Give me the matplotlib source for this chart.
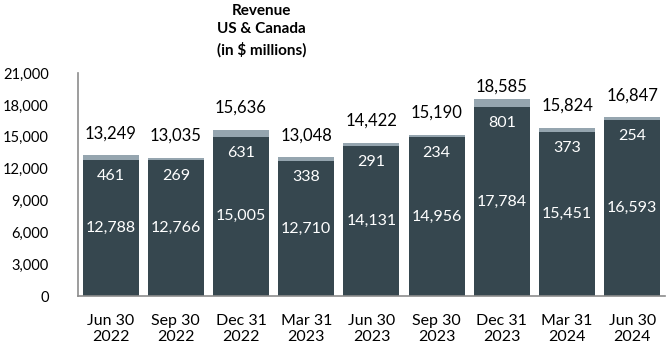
import matplotlib
matplotlib.use('Agg')
import matplotlib.pyplot as plt
import numpy as np

plt.rcParams['font.family'] = ['Lato', 'DejaVu Sans']

quarters = ['Jun 30\n2022', 'Sep 30\n2022', 'Dec 31\n2022', 'Mar 31\n2023', 'Jun 30\n2023',
            'Sep 30\n2023', 'Dec 31\n2023', 'Mar 31\n2024', 'Jun 30\n2024']
base = [12788, 12766, 15005, 12710, 14131, 14956, 17784, 15451, 16593]
extra = [461, 269, 631, 338, 291, 234, 801, 373, 254]
totals = [13249, 13035, 15636, 13048, 14422, 15190, 18585, 15824, 16847]
yticks = [0, 3000, 6000, 9000, 12000, 15000, 18000, 21000]

dark = '#36474f'
light = '#95a5af'
axis_grey = '#8c8c8c'

fig = plt.figure(figsize=(6.7, 3.52), dpi=100)
ax = fig.add_axes([0.1164, 0.159, 0.876, 0.6335])

x = np.arange(len(quarters))
ax.bar(x, base, width=0.86, color=dark)
ax.bar(x, extra, width=0.86, bottom=base, color=light)

for xi, b, e, t in zip(x, base, extra, totals):
    ax.text(xi, b / 2, f'{b:,}', ha='center', va='center', color='white', fontsize=11.5)
    ax.annotate(f'{e:,}', (xi, b), xytext=(0, -11.5), textcoords='offset points',
                ha='center', va='center', color='white', fontsize=11.5)
    # totals sit above the bar, but stay below the top of the frame
    ty = min(t + 2070, 19700)
    ax.text(xi, ty, f'{t:,}', ha='center', va='center', color='black', fontsize=12)

ax.set_xlim(-0.5, len(quarters) - 0.5)
ax.set_ylim(0, 21000)
ax.set_yticks(yticks)
ax.set_yticklabels([f'{v:,}' for v in yticks], fontsize=10.5)
ax.set_xticks(x)
ax.set_xticklabels(quarters, fontsize=11.5, linespacing=1.2)
ax.tick_params(axis='both', length=0)
ax.tick_params(axis='y', pad=21)
ax.tick_params(axis='x', pad=13)

for s in ['top', 'right']:
    ax.spines[s].set_visible(False)
for s in ['left', 'bottom']:
    ax.spines[s].set_color(axis_grey)
    ax.spines[s].set_linewidth(1.2)

fig.text(0.39, 0.99, 'Revenue\nUS & Canada\n(in $ millions)', ha='center', va='top',
         fontsize=11, fontweight='bold', linespacing=1.45)

fig.savefig('out.png', dpi=100)
